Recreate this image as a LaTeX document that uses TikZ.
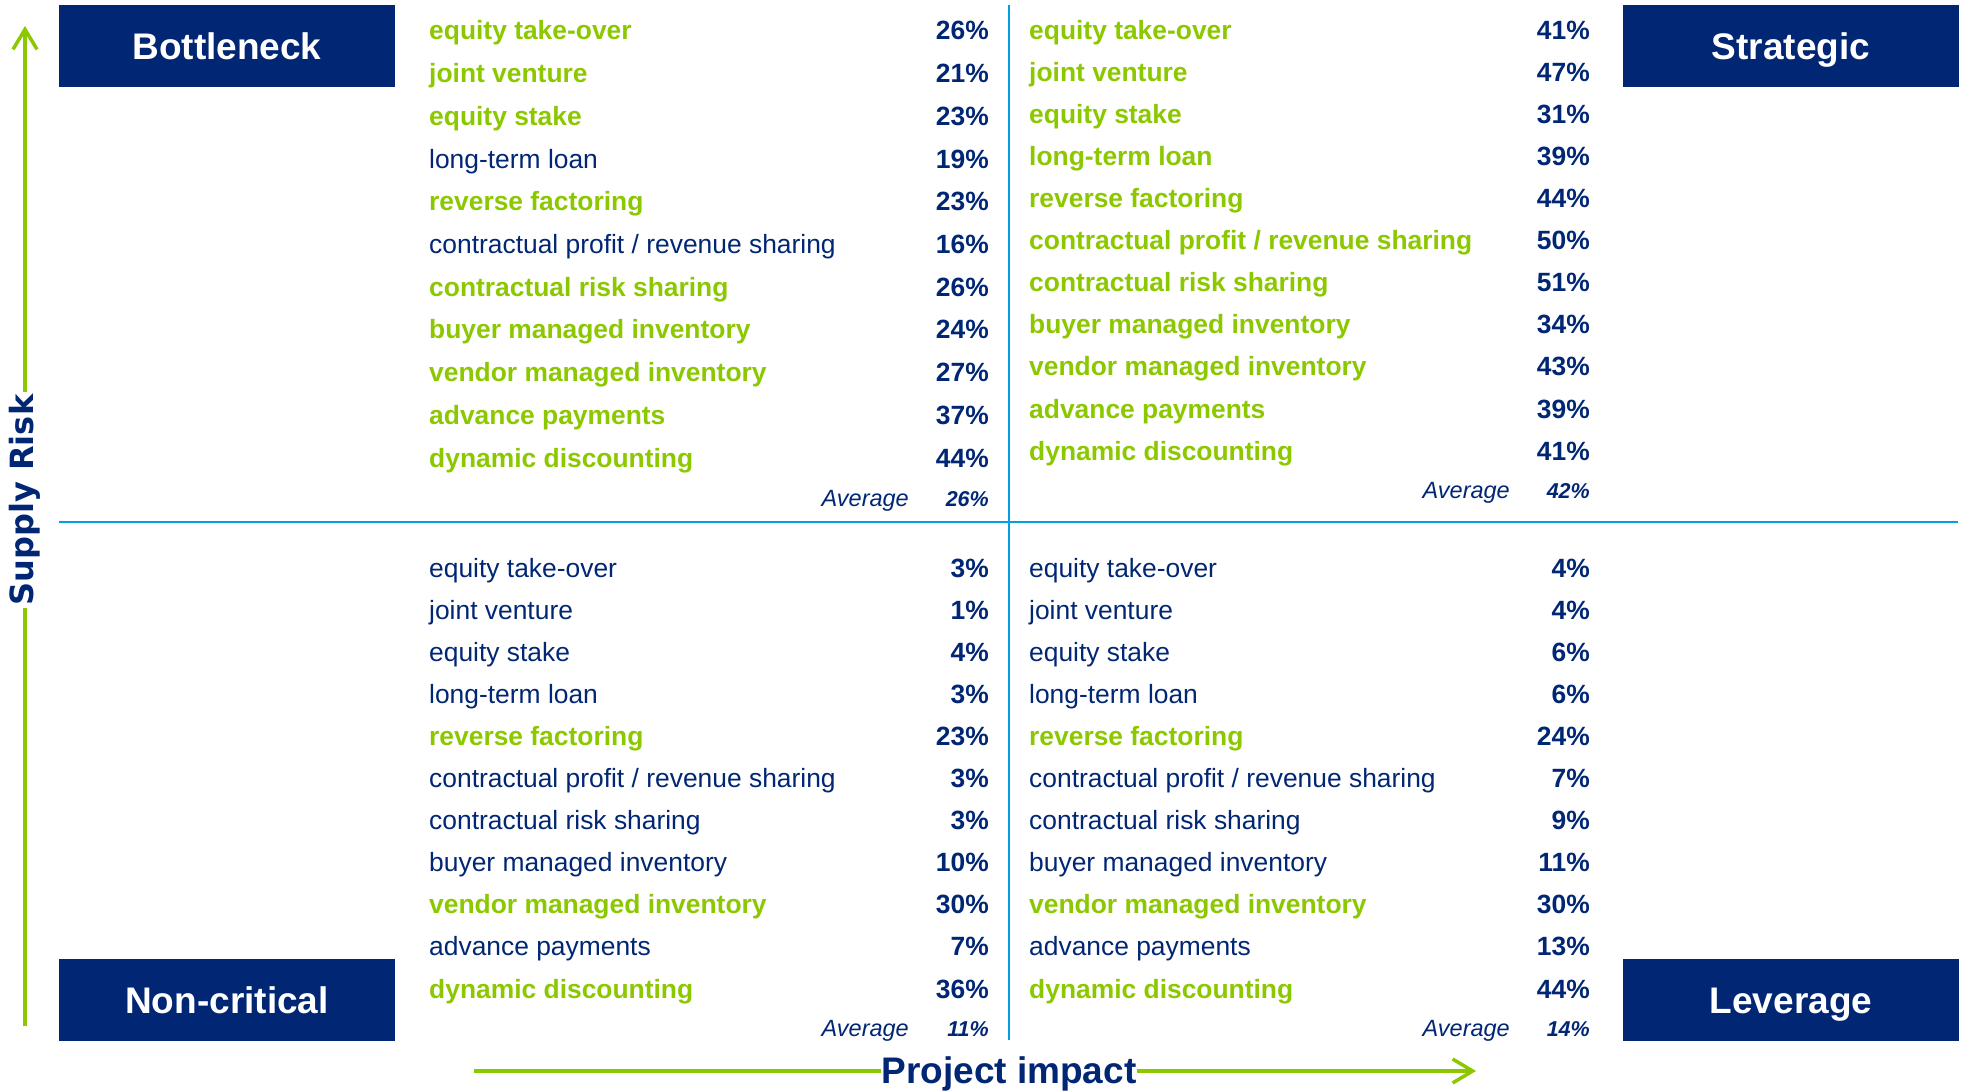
\documentclass[tikz,border=0pt]{standalone}
\usepackage{fontspec}
\setmainfont{Liberation Sans}
\newfontfamily\dvs{DejaVu Sans}
\usetikzlibrary{arrows.meta}
\definecolor{navy}{RGB}{0,38,116}
\definecolor{lime}{RGB}{140,200,0}
\definecolor{lblue}{RGB}{0,160,225}
\newcommand\qrow[7]{\node[#5] (#1a) at (#2,#4) {#6};\node[pct] (#1b) at (#3,#4) {#7};}
\begin{document}
\begin{tikzpicture}[x=1pt,y=-1pt,
  txt/.style={inner sep=0pt},
  lab/.style={txt, anchor=base west, text=navy, font=\fontsize{26.4}{30}\selectfont},
  glab/.style={txt, anchor=base west, text=lime, font=\fontsize{26.4}{30}\selectfont\bfseries},
  pct/.style={txt, anchor=base east, text=navy, font=\fontsize{26.4}{30}\selectfont\bfseries},
  avg/.style={txt, anchor=base east, text=navy, font=\fontsize{23.5}{28}\selectfont\itshape},
  avgv/.style={txt, anchor=base east, text=navy, font=\fontsize{21.5}{25}\selectfont\bfseries\itshape},
  quadtitle/.style={fill=navy, text=white, minimum width=336pt, minimum height=82pt, inner sep=0pt, text height=27pt, text depth=0pt, font=\fontsize{37}{40}\selectfont\bfseries},
  axisline/.style={draw=lime, line width=3.5pt},
  axistip/.style={-{Straight Barb[length=20pt,width=24pt]}},
  divider/.style={draw=lblue, line width=2.5pt}]
\useasboundingbox (0,0) rectangle (1966,1091);
% dividers
\coordinate (hl) at (59,522);
\coordinate (hr) at (1958,522);
\coordinate (vt) at (1009,5);
\coordinate (vb) at (1009,1040);
\draw[divider] (hl) -- (hr);
\draw[divider] (vt) -- (vb);
% quadrant titles
\node[quadtitle] (bott) at (227,46) {Bottleneck};
\node[quadtitle] (strat) at (1791,46) {Strategic};
\node[quadtitle] (noncr) at (227,1000) {Non-critical};
\node[quadtitle] (lever) at (1791,1000) {Leverage};
% vertical axis
\coordinate (sbot) at (25,1026);
\coordinate (stop) at (25,26);
\node[txt, rotate=90, text=navy, font=\fontsize{32}{36}\dvs\bfseries, inner sep=3pt] (srisk) at (25,500) {Supply Risk};
\draw[axisline] (sbot) -- (srisk.west);
\draw[axisline, axistip] (srisk.east) -- (stop);
% horizontal axis
\coordinate (pl) at (474,1071);
\coordinate (pr) at (1476,1071);
\node[txt, anchor=base, text=navy, font=\fontsize{37}{40}\selectfont\bfseries] (pimp) at (1009,1083) {Project impact};
\draw[axisline] (pl) -- (pl -| pimp.west);
\draw[axisline, axistip] (pr -| pimp.east) -- (pr);
% top-left
\qrow{tla}{429}{989}{40}{glab}{equity take-over}{26\%}
\qrow{tlb}{429}{989}{82.7}{glab}{joint venture}{21\%}
\qrow{tlc}{429}{989}{125.4}{glab}{equity stake}{23\%}
\qrow{tld}{429}{989}{168.1}{lab}{long-term loan}{19\%}
\qrow{tle}{429}{989}{210.8}{glab}{reverse factoring}{23\%}
\qrow{tlf}{429}{989}{253.5}{lab}{contractual profit / revenue sharing}{16\%}
\qrow{tlg}{429}{989}{296.2}{glab}{contractual risk sharing}{26\%}
\qrow{tlh}{429}{989}{338.9}{glab}{buyer managed inventory}{24\%}
\qrow{tli}{429}{989}{381.6}{glab}{vendor managed inventory}{27\%}
\qrow{tlj}{429}{989}{424.3}{glab}{advance payments}{37\%}
\qrow{tlk}{429}{989}{467}{glab}{dynamic discounting}{44\%}
\node[avg] (tlavg) at (909,506) {Average};
\node[avgv] (tlavgv) at (989,506) {26\%};
% top-right
\qrow{tra}{1029}{1590}{40}{glab}{equity take-over}{41\%}
\qrow{trb}{1029}{1590}{82}{glab}{joint venture}{47\%}
\qrow{trc}{1029}{1590}{124}{glab}{equity stake}{31\%}
\qrow{trd}{1029}{1590}{166}{glab}{long-term loan}{39\%}
\qrow{tre}{1029}{1590}{208}{glab}{reverse factoring}{44\%}
\qrow{trf}{1029}{1590}{250}{glab}{contractual profit / revenue sharing}{50\%}
\qrow{trg}{1029}{1590}{292}{glab}{contractual risk sharing}{51\%}
\qrow{trh}{1029}{1590}{334}{glab}{buyer managed inventory}{34\%}
\qrow{tri}{1029}{1590}{376}{glab}{vendor managed inventory}{43\%}
\qrow{trj}{1029}{1590}{418}{glab}{advance payments}{39\%}
\qrow{trk}{1029}{1590}{460}{glab}{dynamic discounting}{41\%}
\node[avg] (travg) at (1510,498) {Average};
\node[avgv] (travgv) at (1590,498) {42\%};
% bottom-left
\qrow{bla}{429}{989}{577}{lab}{equity take-over}{3\%}
\qrow{blb}{429}{989}{619.1}{lab}{joint venture}{1\%}
\qrow{blc}{429}{989}{661.2}{lab}{equity stake}{4\%}
\qrow{bld}{429}{989}{703.3}{lab}{long-term loan}{3\%}
\qrow{ble}{429}{989}{745.4}{glab}{reverse factoring}{23\%}
\qrow{blf}{429}{989}{787.5}{lab}{contractual profit / revenue sharing}{3\%}
\qrow{blg}{429}{989}{829.6}{lab}{contractual risk sharing}{3\%}
\qrow{blh}{429}{989}{871.7}{lab}{buyer managed inventory}{10\%}
\qrow{bli}{429}{989}{913.8}{glab}{vendor managed inventory}{30\%}
\qrow{blj}{429}{989}{955.9}{lab}{advance payments}{7\%}
\qrow{blk}{429}{989}{998}{glab}{dynamic discounting}{36\%}
\node[avg] (blavg) at (909,1036) {Average};
\node[avgv] (blavgv) at (989,1036) {11\%};
% bottom-right
\qrow{bra}{1029}{1590}{577}{lab}{equity take-over}{4\%}
\qrow{brb}{1029}{1590}{619.1}{lab}{joint venture}{4\%}
\qrow{brc}{1029}{1590}{661.2}{lab}{equity stake}{6\%}
\qrow{brd}{1029}{1590}{703.3}{lab}{long-term loan}{6\%}
\qrow{bre}{1029}{1590}{745.4}{glab}{reverse factoring}{24\%}
\qrow{brf}{1029}{1590}{787.5}{lab}{contractual profit / revenue sharing}{7\%}
\qrow{brg}{1029}{1590}{829.6}{lab}{contractual risk sharing}{9\%}
\qrow{brh}{1029}{1590}{871.7}{lab}{buyer managed inventory}{11\%}
\qrow{bri}{1029}{1590}{913.8}{glab}{vendor managed inventory}{30\%}
\qrow{brj}{1029}{1590}{955.9}{lab}{advance payments}{13\%}
\qrow{brk}{1029}{1590}{998}{glab}{dynamic discounting}{44\%}
\node[avg] (bravg) at (1510,1036) {Average};
\node[avgv] (bravgv) at (1590,1036) {14\%};
\end{tikzpicture}
\end{document}
